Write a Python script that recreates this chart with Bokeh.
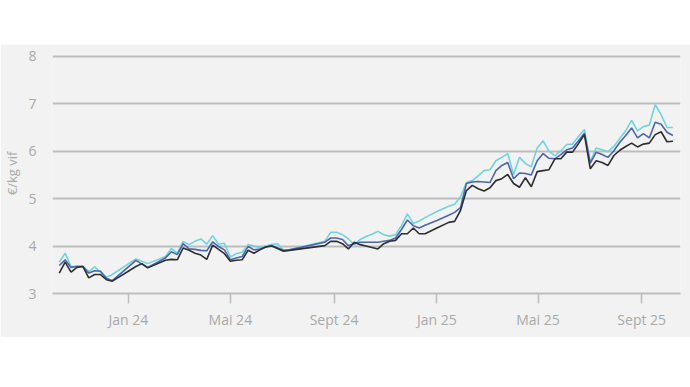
import pandas as pd
from bokeh.plotting import figure
from bokeh.models import Range1d, FixedTicker, Spacer
from bokeh.layouts import column
from bokeh.embed import file_html
from bokeh.resources import INLINE

# ---- data -------------------------------------------------------------
dates = [
    "2023-10-11", "2023-10-18", "2023-10-25", "2023-11-01", "2023-11-08",
    "2023-11-15", "2023-11-22", "2023-11-29", "2023-12-06", "2023-12-13",
    "2024-01-10", "2024-01-17", "2024-01-24",
    "2024-02-14", "2024-02-21", "2024-02-28", "2024-03-06", "2024-03-13",
    "2024-03-20", "2024-03-27", "2024-04-03", "2024-04-10", "2024-04-17",
    "2024-04-24", "2024-05-01", "2024-05-08", "2024-05-15", "2024-05-22",
    "2024-05-29", "2024-06-05", "2024-06-12", "2024-06-19", "2024-06-26",
    "2024-07-03", "2024-07-10",
    "2024-08-21", "2024-08-28", "2024-09-04", "2024-09-11", "2024-09-18",
    "2024-09-25", "2024-10-02", "2024-10-09", "2024-10-16", "2024-10-23",
    "2024-10-30", "2024-11-06", "2024-11-13", "2024-11-20", "2024-11-27",
    "2024-12-04", "2024-12-11", "2024-12-18",
    "2025-01-01",
    "2025-01-15", "2025-01-22", "2025-01-29", "2025-02-05", "2025-02-12",
    "2025-02-19", "2025-02-26", "2025-03-05", "2025-03-12", "2025-03-19",
    "2025-03-26", "2025-04-02", "2025-04-09", "2025-04-16", "2025-04-23",
    "2025-04-30", "2025-05-07", "2025-05-14", "2025-05-21", "2025-05-28",
    "2025-06-04", "2025-06-11", "2025-06-18", "2025-06-25", "2025-07-02",
    "2025-07-09", "2025-07-16", "2025-07-23", "2025-07-30", "2025-08-06",
    "2025-08-13", "2025-08-20", "2025-08-27", "2025-09-03", "2025-09-10",
    "2025-09-17", "2025-09-24", "2025-10-01", "2025-10-08",
]

series_cyan = [
    3.66, 3.85, 3.57, 3.58, 3.58, 3.46, 3.56, 3.45, 3.34, 3.40,
    3.73, 3.68, 3.63,
    3.78, 3.95, 3.85, 4.10, 4.03, 4.10, 4.15, 4.04, 4.22, 4.04, 4.06,
    3.77, 3.84, 3.87, 4.03, 4.00, 3.97, 4.00, 4.03, 4.05, 3.91, 3.92,
    4.10, 4.29, 4.29, 4.24, 4.15, 4.03, 4.14, 4.20, 4.25, 4.31, 4.24,
    4.21, 4.24, 4.43, 4.68, 4.48, 4.53, 4.60,
    4.73,
    4.84, 4.88, 5.04, 5.34, 5.38, 5.48, 5.59, 5.61, 5.80, 5.87,
    5.95, 5.51, 5.87, 5.74, 5.67, 6.07, 6.22, 6.00, 5.90, 6.01,
    6.14, 6.15, 6.31, 6.46, 5.77, 6.07, 6.03, 5.99, 6.10, 6.27,
    6.43, 6.65, 6.43, 6.52, 6.55, 6.98, 6.77, 6.50, 6.50,
]

series_blue = [
    3.59, 3.71, 3.55, 3.57, 3.57, 3.43, 3.48, 3.47, 3.32, 3.27,
    3.70, 3.62, 3.55,
    3.75, 3.88, 3.82, 4.05, 3.94, 3.93, 3.91, 3.90, 4.09, 3.99, 3.92,
    3.71, 3.75, 3.78, 3.99, 3.92, 3.94, 3.98, 4.01, 3.96, 3.91, 3.92,
    4.08, 4.17, 4.17, 4.14, 4.01, 4.05, 4.08, 4.08, 4.08, 4.08, 4.10,
    4.12, 4.17, 4.35, 4.55, 4.43, 4.38, 4.44,
    4.54,
    4.65, 4.71, 4.81, 5.32, 5.35, 5.36, 5.35, 5.34, 5.59, 5.70,
    5.76, 5.42, 5.54, 5.53, 5.50, 5.80, 5.95, 5.85, 5.84, 5.93,
    6.03, 6.07, 6.22, 6.38, 5.75, 5.98, 5.93, 5.87, 6.01, 6.19,
    6.33, 6.49, 6.28, 6.37, 6.28, 6.61, 6.57, 6.40, 6.33,
]

series_black = [
    3.43, 3.66, 3.45, 3.55, 3.57, 3.33, 3.40, 3.40, 3.29, 3.26,
    3.57, 3.63, 3.54,
    3.70, 3.72, 3.71, 3.96, 3.91, 3.85, 3.81, 3.72, 4.02, 3.93, 3.84,
    3.68, 3.70, 3.71, 3.91, 3.85, 3.92, 3.98, 4.00, 3.95, 3.89, 3.91,
    4.01, 4.10, 4.10, 4.05, 3.94, 4.08, 4.03, 4.00, 3.97, 3.94, 4.05,
    4.10, 4.12, 4.26, 4.26, 4.38, 4.26, 4.26,
    4.38,
    4.50, 4.52, 4.75, 5.17, 5.28, 5.21, 5.16, 5.23, 5.38, 5.42,
    5.51, 5.32, 5.24, 5.44, 5.25, 5.57, 5.59, 5.61, 5.84, 5.84,
    5.98, 5.98, 6.16, 6.35, 5.63, 5.80, 5.76, 5.70, 5.91, 6.02,
    6.10, 6.17, 6.09, 6.15, 6.17, 6.35, 6.41, 6.20, 6.21,
]

tick_dates = ["2024-01-01", "2024-05-01", "2024-09-01",
              "2025-01-01", "2025-05-01", "2025-09-01"]
tick_labels = ["Jan 24", "Mai 24", "Sept 24", "Jan 25", "Mai 25", "Sept 25"]
y_ticks = [3, 4, 5, 6, 7, 8]
y_label = "€/kg vif"

# ---- styling ----------------------------------------------------------
BG = "#f2f2f2"
GRID = "#bdbdbd"
TXT = "#a9a9a9"
FONT = "Open Sans"

x = pd.to_datetime(dates)

p = figure(
    width=690, height=293,
    x_axis_type="datetime",
    x_range=Range1d(pd.Timestamp("2023-10-03"), pd.Timestamp("2025-10-17")),
    y_range=Range1d(3, 8.06),
    output_backend="svg", toolbar_location=None,
    min_border_left=52, min_border_right=10,
    min_border_top=9, min_border_bottom=44,
)
p.background_fill_color = BG
p.border_fill_color = BG
p.outline_line_color = None

p.line(x, series_cyan, line_color="#6dd5df", line_width=1.6)
p.line(x, series_blue, line_color="#4d63b3", line_width=1.6)
p.line(x, series_black, line_color="#2e2e2e", line_width=1.6)

# grid
p.xgrid.grid_line_color = None
p.ygrid.grid_line_color = GRID
p.ygrid.grid_line_width = 2

# x axis
tick_ms = [pd.Timestamp(d).value / 1e6 for d in tick_dates]
p.xaxis.ticker = FixedTicker(ticks=tick_ms)
p.xaxis.major_label_overrides = {t: l for t, l in zip(tick_ms, tick_labels)}
p.xaxis.axis_line_color = GRID
p.xaxis.axis_line_width = 2
p.xaxis.major_tick_line_color = GRID
p.xaxis.major_tick_line_width = 1.5
p.xaxis.major_tick_out = 10
p.xaxis.major_tick_in = 0
p.xaxis.minor_tick_line_color = None
p.xaxis.major_label_standoff = 6
p.xaxis.major_label_text_color = TXT
p.xaxis.major_label_text_font = FONT
p.xaxis.major_label_text_font_size = "14px"

# y axis
p.yaxis.ticker = FixedTicker(ticks=y_ticks)
p.yaxis.axis_line_color = None
p.yaxis.major_tick_line_color = None
p.yaxis.minor_tick_line_color = None
p.yaxis.major_tick_out = 0
p.yaxis.major_tick_in = 0
p.yaxis.major_label_standoff = 16
p.yaxis.major_label_text_color = TXT
p.yaxis.major_label_text_font = FONT
p.yaxis.major_label_text_font_size = "14px"
p.yaxis.axis_label = y_label
p.yaxis.axis_label_standoff = 4
p.yaxis.axis_label_text_color = TXT
p.yaxis.axis_label_text_font = FONT
p.yaxis.axis_label_text_font_size = "13px"
p.yaxis.axis_label_text_font_style = "normal"

layout = column(Spacer(width=690, height=44), p)

open("out.html", "w").write(file_html(layout, INLINE))
